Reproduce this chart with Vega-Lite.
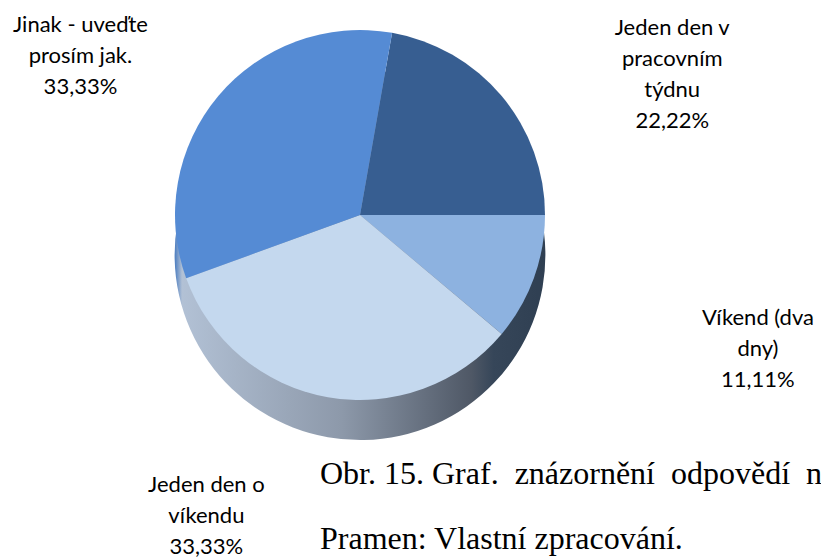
{
  "$schema": "https://vega.github.io/schema/vega-lite/v6.json",
  "width": 720,
  "height": 430,
  "autosize": {"type": "none"},
  "padding": {"left": 0, "top": 0, "right": 101, "bottom": 129},
  "background": "white",
  "config": {"view": {"stroke": null}},
  "title": {
    "text": ["Obr. 15. Graf. \u00a0znázornění \u00a0odpovědí \u00a0n", "Pramen: Vlastní zpracování."],
    "orient": "bottom",
    "anchor": "start",
    "dx": 320,
    "offset": -177,
    "font": "Liberation Serif",
    "fontSize": 32,
    "fontWeight": "normal",
    "lineHeight": 65,
    "color": "#000000"
  },
  "resolve": {"scale": {"theta": "independent"}},
  "datasets": {
    "odpovedi": [
      {"kategorie": "Jeden den v pracovním týdnu", "podil": 22.22, "poradi": 1, "popisek": "Jeden den v\npracovním\ntýdnu\n22,22%"},
      {"kategorie": "Víkend (dva dny)", "podil": 11.11, "poradi": 2, "popisek": "Víkend (dva\ndny)\n11,11%"},
      {"kategorie": "Jeden den o víkendu", "podil": 33.33, "poradi": 3, "popisek": "Jeden den o\nvíkendu\n33,33%"},
      {"kategorie": "Jinak - uveďte prosím jak.", "podil": 33.33, "poradi": 4, "popisek": "Jinak - uveďte\nprosím jak.\n33,33%"}
    ],
    "bok": [{"celek": 100}]
  },
  "layer": [
    {
      "data": {"name": "bok"},
      "mark": {
        "type": "arc",
        "outerRadius": 185,
        "yOffset": 40,
        "color": {
          "gradient": "linear",
          "x1": 0, "y1": 0, "x2": 1, "y2": 0,
          "stops": [
            {"offset": 0, "color": "#4a7cc0"},
            {"offset": 0.02, "color": "#b2c1d5"},
            {"offset": 0.45, "color": "#8d99aa"},
            {"offset": 0.8, "color": "#4f5866"},
            {"offset": 0.86, "color": "#364659"},
            {"offset": 1, "color": "#2f3f52"}
          ]
        }
      },
      "encoding": {
        "theta": {"field": "celek", "type": "quantitative", "stack": true, "scale": {"range": [0.17453, 6.45772]}}
      }
    },
    {
      "data": {"name": "odpovedi"},
      "mark": {"type": "arc", "outerRadius": 185},
      "encoding": {
        "theta": {"field": "podil", "type": "quantitative", "stack": true, "scale": {"range": [0.17453, 6.45772]}},
        "order": {"field": "poradi", "type": "quantitative"},
        "color": {
          "field": "kategorie",
          "type": "nominal",
          "scale": {
            "domain": ["Jeden den v pracovním týdnu", "Víkend (dva dny)", "Jeden den o víkendu", "Jinak - uveďte prosím jak."],
            "range": ["#375e91", "#8db2e0", "#c4d8ee", "#558bd4"]
          },
          "legend": null
        }
      }
    },
    {
      "data": {"name": "odpovedi"},
      "mark": {"type": "text", "radius": 338, "align": "center", "baseline": "middle", "lineBreak": "\n", "font": "Lato", "fontSize": 22, "lineHeight": 31, "color": "#000000"},
      "encoding": {
        "theta": {"field": "podil", "type": "quantitative", "stack": true, "scale": {"range": [0.0733, 6.3565]}},
        "order": {"field": "poradi", "type": "quantitative"},
        "text": {"condition": {"test": "datum.kategorie === 'Jinak - uveďte prosím jak.'", "field": "popisek"}, "value": ""}
      }
    },
    {
      "data": {"name": "odpovedi"},
      "mark": {"type": "text", "radius": 364, "align": "center", "baseline": "middle", "lineBreak": "\n", "font": "Lato", "fontSize": 22, "lineHeight": 31, "color": "#000000"},
      "encoding": {
        "theta": {"field": "podil", "type": "quantitative", "stack": true, "scale": {"range": [0.3327, 6.6159]}},
        "order": {"field": "poradi", "type": "quantitative"},
        "text": {"condition": {"test": "datum.kategorie === 'Jeden den v pracovním týdnu'", "field": "popisek"}, "value": ""}
      }
    },
    {
      "data": {"name": "odpovedi"},
      "mark": {"type": "text", "radius": 411, "align": "center", "baseline": "middle", "lineBreak": "\n", "font": "Lato", "fontSize": 22, "lineHeight": 31, "color": "#000000"},
      "encoding": {
        "theta": {"field": "podil", "type": "quantitative", "stack": true, "scale": {"range": [0.0785, 6.3617]}},
        "order": {"field": "poradi", "type": "quantitative"},
        "text": {"condition": {"test": "datum.kategorie === 'Víkend (dva dny)'", "field": "popisek"}, "value": ""}
      }
    },
    {
      "data": {"name": "odpovedi"},
      "mark": {"type": "text", "radius": 311, "align": "center", "baseline": "middle", "lineBreak": "\n", "font": "Lato", "fontSize": 22, "lineHeight": 31, "color": "#000000"},
      "encoding": {
        "theta": {"field": "podil", "type": "quantitative", "stack": true, "scale": {"range": [0.5166, 6.7998]}},
        "order": {"field": "poradi", "type": "quantitative"},
        "text": {"condition": {"test": "datum.kategorie === 'Jeden den o víkendu'", "field": "popisek"}, "value": ""}
      }
    }
  ]
}
